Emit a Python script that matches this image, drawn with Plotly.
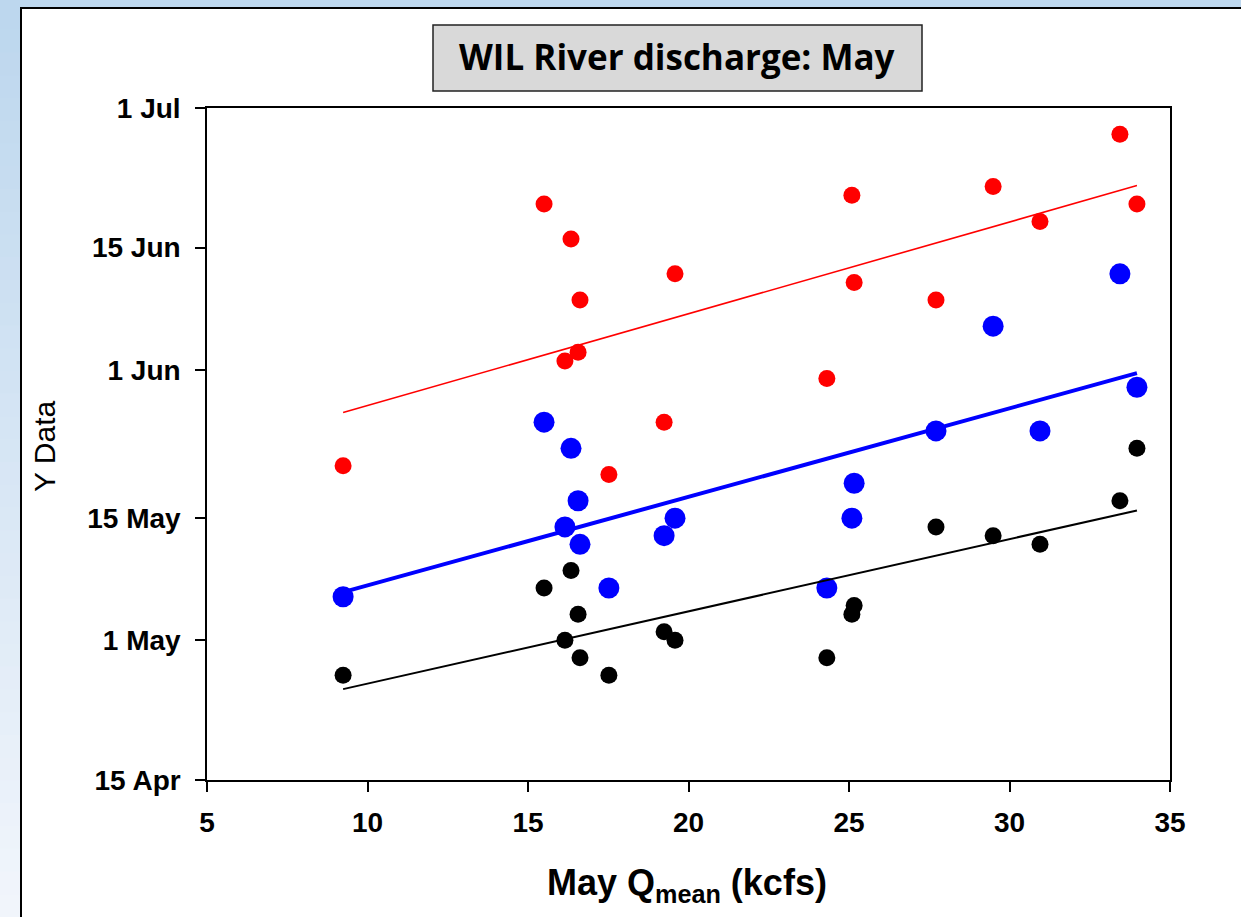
import numpy as np
import pandas as pd
import plotly.graph_objects as go

# ---------------- data ----------------
q_mean = [9.24, 15.5, 16.15, 16.34, 16.56, 16.62, 17.52, 19.24, 19.58,
          24.31, 25.09, 25.16, 27.71, 29.49, 30.95, 33.44, 33.97]
red_dates = ["May 21", "Jun 20", "Jun 2", "Jun 16", "Jun 3", "Jun 9", "May 20", "May 26", "Jun 12",
             "May 31", "Jun 21", "Jun 11", "Jun 9", "Jun 22", "Jun 18", "Jun 28", "Jun 20"]
blue_dates = ["May 6", "May 26", "May 14", "May 23", "May 17", "May 12", "May 7", "May 13", "May 15",
              "May 7", "May 15", "May 19", "May 25", "Jun 6", "May 25", "Jun 12", "May 30"]
black_dates = ["Apr 27", "May 7", "May 1", "May 9", "May 4", "Apr 29", "Apr 27", "May 2", "May 1",
               "Apr 29", "May 4", "May 5", "May 14", "May 13", "May 12", "May 17", "May 23"]
x_ticks = [5, 10, 15, 20, 25, 30, 35]
y_tick_dates = ["Apr 15", "May 1", "May 15", "Jun 1", "Jun 15", "Jul 1"]
y_tick_text = ["15 Apr", "1 May", "15 May", "1 Jun", "15 Jun", "1 Jul"]
YEAR = 2000


def to_dt(lst):
    return pd.to_datetime([f"{YEAR} {s}" for s in lst], format="%Y %b %d")


base = pd.Timestamp(f"{YEAR}-01-01")


def fit_line(x, dates):
    t = np.array([(d - base).days for d in dates], dtype=float)
    a, b = np.polyfit(np.array(x), t, 1)
    xs = np.array([min(x), max(x)])
    ys = [base + pd.Timedelta(days=float(a * v + b)) for v in xs]
    return xs, ys


# ---------------- layout helpers ----------------
W, H = 1241, 917
L, R, T, B = 207, 1170, 108, 780


def px(x):
    return (x - L) / (R - L)


def py(y):
    return (B - y) / (B - T)


fig = go.Figure()

series = [
    ("red", red_dates, 17, 1.6),
    ("black", black_dates, 17, 2.0),
    ("blue", blue_dates, 21, 4.0),
]
for color, dts, msize, lw in series:
    d = to_dt(dts)
    fig.add_trace(go.Scatter(x=q_mean, y=d, mode="markers",
                             marker=dict(color=color, size=msize, line=dict(width=0)),
                             showlegend=False))
for color, dts, msize, lw in series:
    d = to_dt(dts)
    xs, ys = fit_line(q_mean, d)
    fig.add_trace(go.Scatter(x=xs, y=ys, mode="lines",
                             line=dict(color=color, width=lw), showlegend=False))

shapes = []
# left gradient strip
top_c = np.array([0xBD, 0xD7, 0xEE])
bot_c = np.array([0xF2, 0xF6, 0xFC])
n = 40
for i in range(n):
    y0 = 7 + (H - 7) * i / n
    y1 = 7 + (H - 7) * (i + 1) / n + 1
    c = top_c + (bot_c - top_c) * (i + 0.5) / n
    shapes.append(dict(type="rect", xref="paper", yref="paper", layer="below",
                       x0=px(0) - 0.01, x1=px(21), y0=py(y1), y1=py(y0),
                       fillcolor="rgb(%d,%d,%d)" % tuple(c.astype(int)), line=dict(width=0)))
# white panel
shapes.append(dict(type="rect", xref="paper", yref="paper", layer="below",
                   x0=px(21), x1=px(W + 50), y0=py(H + 50), y1=py(8),
                   fillcolor="white", line=dict(color="black", width=2)))
# title box
shapes.append(dict(type="rect", xref="paper", yref="paper",
                   x0=px(433), x1=px(922), y0=py(91), y1=py(25),
                   fillcolor="#D9D9D9", line=dict(color="#222222", width=1.5)))

annotations = [
    dict(text="<b>WIL River discharge: May</b>", xref="paper", yref="paper",
         x=px(677), y=py(57), xanchor="center", yanchor="middle", showarrow=False,
         font=dict(family="Open Sans", size=35, color="black")),
    dict(text="<b>May Q<sub>mean</sub> (kcfs)</b>", xref="paper", yref="paper",
         x=px(687), y=py(885), xanchor="center", yanchor="middle", showarrow=False,
         font=dict(family="Liberation Sans", size=36, color="black")),
    dict(text="Y Data", xref="paper", yref="paper", textangle=-90,
         x=px(44), y=py(447), xanchor="center", yanchor="middle", showarrow=False,
         font=dict(family="Liberation Sans", size=30, color="black")),
]

fig.update_layout(
    width=W, height=H,
    margin=dict(l=L, r=W - R, t=T, b=H - B, pad=0),
    paper_bgcolor="#BDD7EE",
    plot_bgcolor="rgba(0,0,0,0)",
    shapes=shapes,
    annotations=annotations,
    showlegend=False,
)
fig.update_xaxes(range=[5, 35], tickvals=x_ticks, ticks="outside", ticklen=10,
                 tickwidth=1.5, tickcolor="black", showline=True, linecolor="black",
                 linewidth=1.5, mirror=True, showgrid=False, zeroline=False,
                 tickfont=dict(family="Liberation Sans", size=28, color="black", weight="bold"),
                 ticklabelstandoff=7)
fig.update_yaxes(type="date", range=[f"{YEAR}-04-15", f"{YEAR}-07-01"],
                 tickvals=to_dt(y_tick_dates), ticktext=y_tick_text,
                 ticks="outside", ticklen=10, tickwidth=1.5, tickcolor="black",
                 showline=True, linecolor="black", linewidth=1.5, mirror=True,
                 showgrid=False, zeroline=False,
                 tickfont=dict(family="Liberation Sans", size=28, color="black", weight="bold"),
                 ticklabelstandoff=9)

fig.write_html("out.html")
